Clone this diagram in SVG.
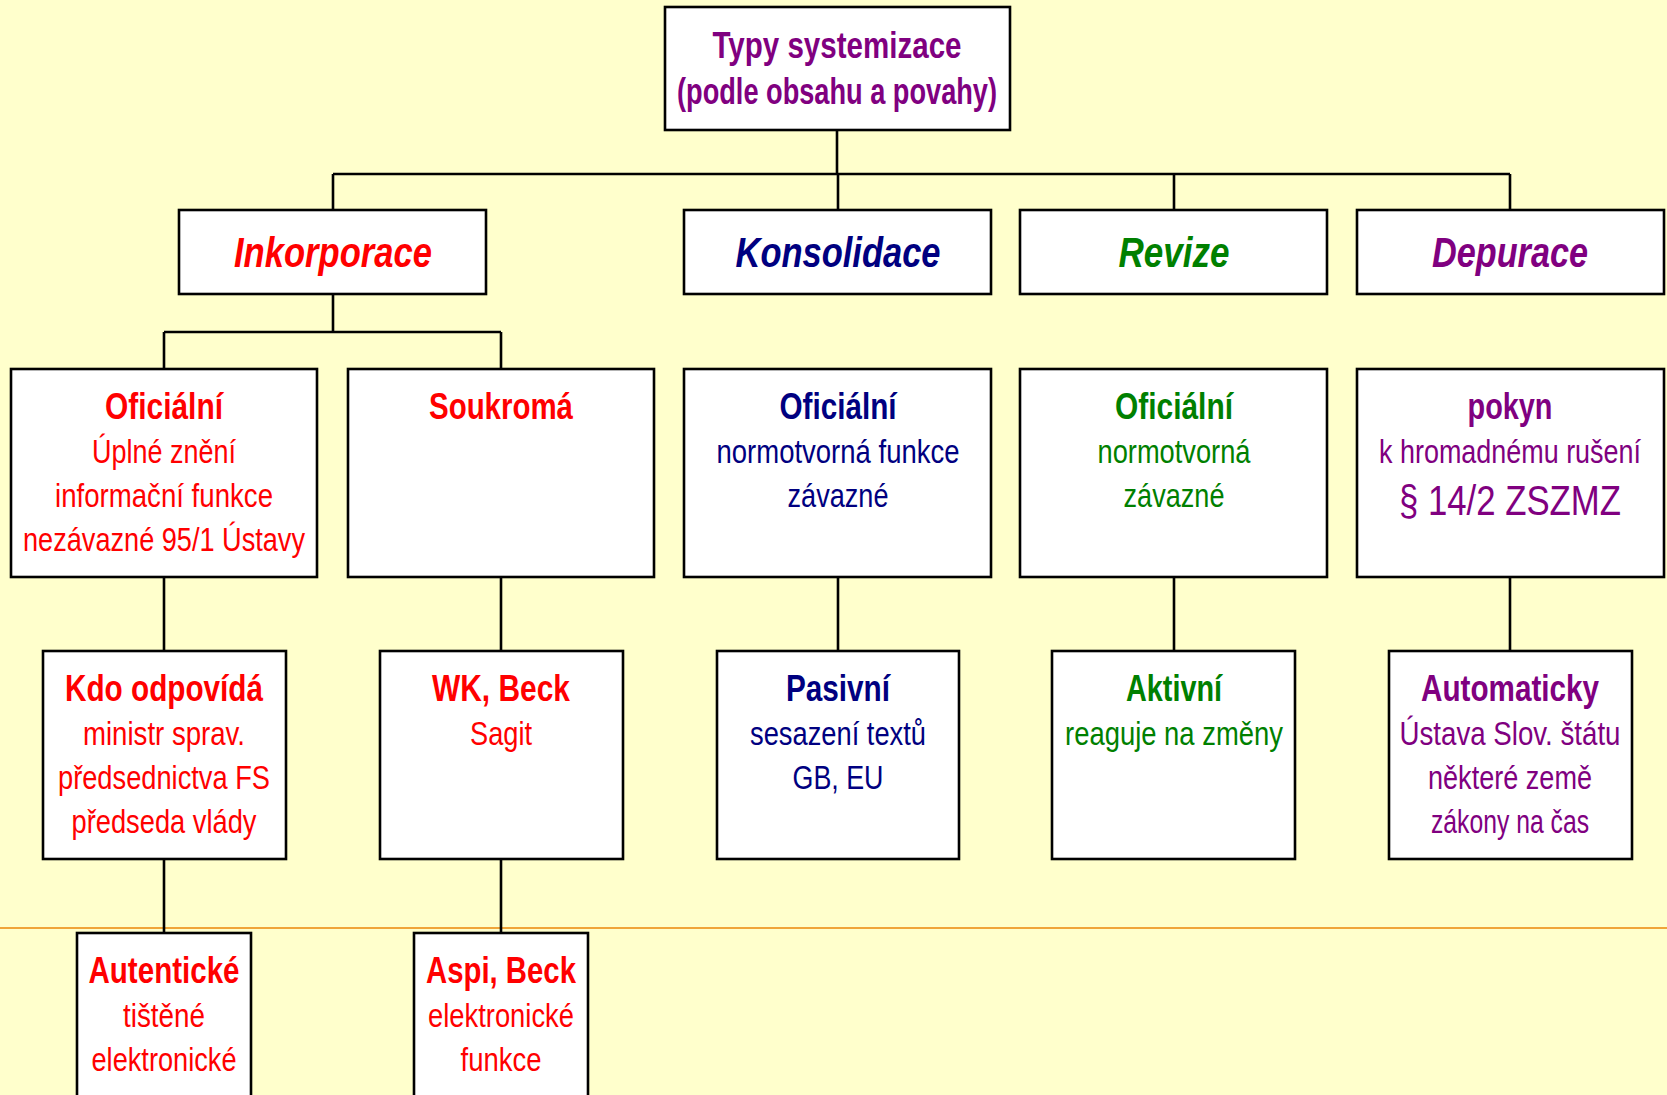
<svg xmlns="http://www.w3.org/2000/svg" width="1667" height="1095" viewBox="0 0 1667 1095">
<style>
.box{fill:#ffffff;stroke:#000000;stroke-width:2.6}
.ln{fill:none;stroke:#000000;stroke-width:2.6}
text{font-family:"Liberation Sans Narrow","Liberation Sans",Arial,sans-serif;text-anchor:middle}
.b{font-weight:bold;font-size:36px}
.r{font-size:33px}
.h{font-weight:bold;font-style:italic;font-size:42px}
.red{fill:#ff0000}.navy{fill:#000080}.grn{fill:#008000}.pur{fill:#800080}
</style>
<rect x="0" y="0" width="1667" height="1095" fill="#ffffcc"/>
<line x1="0" y1="928" x2="1667" y2="928" stroke="#f0a53a" stroke-width="2"/>
<g id="connectors">
<path class="ln" d="M837 130V174M333 174H1510M333 174V210M838 174V210M1174 174V210M1510 174V210"/>
<path class="ln" d="M333 294V332M164 332H501M164 332V369M501 332V369"/>
<path class="ln" d="M164 577V651M501 577V651M838 577V651M1174 577V651M1510 577V651"/>
<path class="ln" d="M164 859V933M501 859V933"/>
</g>
<g id="root">
<rect class="box" x="665" y="7" width="345" height="123"/>
<text class="b pur" x="837" y="58" textLength="249" lengthAdjust="spacingAndGlyphs">Typy systemizace</text>
<text class="b pur" x="837" y="104" textLength="320" lengthAdjust="spacingAndGlyphs">(podle obsahu a povahy)</text>
</g>
<g id="inkorporace">
<rect class="box" x="179" y="210" width="307" height="84"/>
<text class="h red" x="333" y="267" textLength="198" lengthAdjust="spacingAndGlyphs">Inkorporace</text>
</g>
<g id="konsolidace">
<rect class="box" x="684" y="210" width="307" height="84"/>
<text class="h navy" x="838" y="267" textLength="205" lengthAdjust="spacingAndGlyphs">Konsolidace</text>
</g>
<g id="revize">
<rect class="box" x="1020" y="210" width="307" height="84"/>
<text class="h grn" x="1174" y="267" textLength="111" lengthAdjust="spacingAndGlyphs">Revize</text>
</g>
<g id="depurace">
<rect class="box" x="1357" y="210" width="307" height="84"/>
<text class="h pur" x="1510" y="267" textLength="156" lengthAdjust="spacingAndGlyphs">Depurace</text>
</g>
<g id="inkorporace-oficialni">
<rect class="box" x="11" y="369" width="306" height="208"/>
<text class="b red" x="164" y="419" textLength="118" lengthAdjust="spacingAndGlyphs">Oficiální</text>
<text class="r red" x="164" y="463" textLength="144" lengthAdjust="spacingAndGlyphs">Úplné znění</text>
<text class="r red" x="164" y="507" textLength="218" lengthAdjust="spacingAndGlyphs">informační funkce</text>
<text class="r red" x="164" y="551" textLength="282" lengthAdjust="spacingAndGlyphs">nezávazné 95/1 Ústavy</text>
</g>
<g id="soukroma">
<rect class="box" x="348" y="369" width="306" height="208"/>
<text class="b red" x="501" y="419" textLength="144" lengthAdjust="spacingAndGlyphs">Soukromá</text>
</g>
<g id="konsolidace-oficialni">
<rect class="box" x="684" y="369" width="307" height="208"/>
<text class="b navy" x="838" y="419" textLength="117" lengthAdjust="spacingAndGlyphs">Oficiální</text>
<text class="r navy" x="838" y="463" textLength="243" lengthAdjust="spacingAndGlyphs">normotvorná funkce</text>
<text class="r navy" x="838" y="507" textLength="101" lengthAdjust="spacingAndGlyphs">závazné</text>
</g>
<g id="revize-oficialni">
<rect class="box" x="1020" y="369" width="307" height="208"/>
<text class="b grn" x="1174" y="419" textLength="118" lengthAdjust="spacingAndGlyphs">Oficiální</text>
<text class="r grn" x="1174" y="463" textLength="153" lengthAdjust="spacingAndGlyphs">normotvorná</text>
<text class="r grn" x="1174" y="507" textLength="101" lengthAdjust="spacingAndGlyphs">závazné</text>
</g>
<g id="pokyn">
<rect class="box" x="1357" y="369" width="307" height="208"/>
<text class="b pur" x="1510" y="419" textLength="85" lengthAdjust="spacingAndGlyphs">pokyn</text>
<text class="r pur" x="1510" y="463" textLength="262" lengthAdjust="spacingAndGlyphs">k hromadnému rušení</text>
<text class="pur" x="1510" y="515" font-size="42" textLength="222" lengthAdjust="spacingAndGlyphs">§ 14/2 ZSZMZ</text>
</g>
<g id="kdo-odpovida">
<rect class="box" x="43" y="651" width="243" height="208"/>
<text class="b red" x="164" y="701" textLength="198" lengthAdjust="spacingAndGlyphs">Kdo odpovídá</text>
<text class="r red" x="164" y="745" textLength="162" lengthAdjust="spacingAndGlyphs">ministr sprav.</text>
<text class="r red" x="164" y="789" textLength="212" lengthAdjust="spacingAndGlyphs">předsednictva FS</text>
<text class="r red" x="164" y="833" textLength="185" lengthAdjust="spacingAndGlyphs">předseda vlády</text>
</g>
<g id="wk-beck">
<rect class="box" x="380" y="651" width="243" height="208"/>
<text class="b red" x="501" y="701" textLength="138" lengthAdjust="spacingAndGlyphs">WK, Beck</text>
<text class="r red" x="501" y="745" textLength="62" lengthAdjust="spacingAndGlyphs">Sagit</text>
</g>
<g id="pasivni">
<rect class="box" x="717" y="651" width="242" height="208"/>
<text class="b navy" x="838" y="701" textLength="104" lengthAdjust="spacingAndGlyphs">Pasivní</text>
<text class="r navy" x="838" y="745" textLength="176" lengthAdjust="spacingAndGlyphs">sesazení textů</text>
<text class="r navy" x="838" y="789" textLength="91" lengthAdjust="spacingAndGlyphs">GB, EU</text>
</g>
<g id="aktivni">
<rect class="box" x="1052" y="651" width="243" height="208"/>
<text class="b grn" x="1174" y="701" textLength="96" lengthAdjust="spacingAndGlyphs">Aktivní</text>
<text class="r grn" x="1174" y="745" textLength="218" lengthAdjust="spacingAndGlyphs">reaguje na změny</text>
</g>
<g id="automaticky">
<rect class="box" x="1389" y="651" width="243" height="208"/>
<text class="b pur" x="1510" y="701" textLength="178" lengthAdjust="spacingAndGlyphs">Automaticky</text>
<text class="r pur" x="1510" y="745" textLength="221" lengthAdjust="spacingAndGlyphs">Ústava Slov. štátu</text>
<text class="r pur" x="1510" y="789" textLength="164" lengthAdjust="spacingAndGlyphs">některé země</text>
<text class="r pur" x="1510" y="833" textLength="158" lengthAdjust="spacingAndGlyphs">zákony na čas</text>
</g>
<g id="autenticke">
<rect class="box" x="77" y="933" width="174" height="180"/>
<text class="b red" x="164" y="983" textLength="151" lengthAdjust="spacingAndGlyphs">Autentické</text>
<text class="r red" x="164" y="1027" textLength="82" lengthAdjust="spacingAndGlyphs">tištěné</text>
<text class="r red" x="164" y="1071" textLength="145" lengthAdjust="spacingAndGlyphs">elektronické</text>
</g>
<g id="aspi-beck">
<rect class="box" x="414" y="933" width="174" height="180"/>
<text class="b red" x="501" y="983" textLength="150" lengthAdjust="spacingAndGlyphs">Aspi, Beck</text>
<text class="r red" x="501" y="1027" textLength="146" lengthAdjust="spacingAndGlyphs">elektronické</text>
<text class="r red" x="501" y="1071" textLength="81" lengthAdjust="spacingAndGlyphs">funkce</text>
</g>
</svg>
